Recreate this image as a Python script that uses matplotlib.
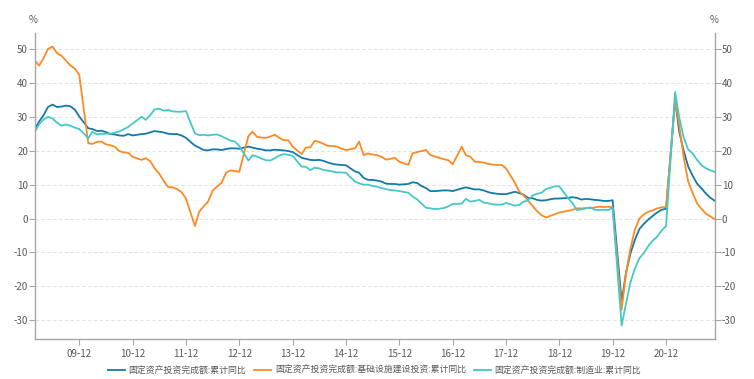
import numpy as np
import pandas as pd
import matplotlib
matplotlib.use('Agg')
import matplotlib.pyplot as plt
import matplotlib.dates as mdates

plt.rcParams['font.family'] = ['Noto Sans CJK SC', 'DejaVu Sans']
plt.rcParams['axes.unicode_minus'] = False

# monthly cumulative yoy (%), Feb-Dec each year (no January), 2009-02 .. 2021-11
fai_total = [
    26.5, 28.6, 30.5, 32.9, 33.6, 32.9, 33.0, 33.3, 33.1, 32.1, 30.1,
    26.6, 26.4, 25.8, 25.9, 25.5, 24.9, 24.8, 24.5, 24.4, 24.9, 24.5,
    24.9, 25.0, 25.4, 25.8, 25.6, 25.4, 25.0, 24.9, 24.9, 24.5, 23.8,
    21.5, 20.9, 20.2, 20.1, 20.4, 20.4, 20.2, 20.5, 20.7, 20.7, 20.6,
    21.2, 20.9, 20.6, 20.4, 20.1, 20.1, 20.3, 20.2, 20.1, 19.9, 19.6,
    17.9, 17.6, 17.3, 17.2, 17.3, 17.0, 16.5, 16.1, 15.9, 15.8, 15.7,
    13.9, 13.5, 12.0, 11.4, 11.4, 11.2, 10.9, 10.3, 10.2, 10.2, 10.0,
    10.2, 10.7, 10.5, 9.6, 9.0, 8.1, 8.1, 8.2, 8.3, 8.3, 8.1,
    8.9, 9.2, 8.9, 8.6, 8.6, 8.3, 7.8, 7.5, 7.3, 7.2, 7.2,
    7.9, 7.5, 7.0, 6.1, 6.0, 5.5, 5.3, 5.4, 5.7, 5.9, 5.9,
    6.1, 6.3, 6.1, 5.6, 5.8, 5.7, 5.5, 5.4, 5.2, 5.2, 5.4,
    -24.5, -16.1, -10.3, -6.3, -3.1, -1.6, -0.3, 0.8, 1.8, 2.6, 2.9,
    35.0, 25.6, 19.9, 15.4, 12.6, 10.3, 8.9, 7.3, 6.1, 5.2,
]

fai_infra = [
    46.5, 45.1, 47.3, 50.0, 50.7, 48.8, 48.0, 46.6, 45.1, 44.2, 42.3,
    22.2, 22.0, 22.6, 22.7, 21.9, 21.6, 21.2, 19.9, 19.5, 19.4, 18.2,
    17.3, 17.8, 16.9, 14.8, 13.3, 11.2, 9.3, 9.2, 8.7, 7.8, 6.0,
    -2.2, 2.0, 3.6, 5.0, 8.2, 9.4, 10.5, 13.5, 14.2, 14.0, 13.8,
    24.3, 25.6, 24.1, 23.9, 23.8, 24.2, 24.7, 23.8, 23.1, 23.1, 21.2,
    19.0, 20.9, 21.0, 22.9, 22.6, 22.0, 21.4, 21.4, 21.2, 20.6, 20.2,
    20.7, 22.7, 18.7, 19.2, 18.9, 18.7, 18.2, 17.4, 17.6, 17.9, 16.8,
    15.8, 19.2, 19.6, 19.9, 20.2, 18.7, 18.3, 17.9, 17.5, 17.2, 16.0,
    21.2, 18.7, 18.2, 16.8, 16.7, 16.5, 16.1, 15.9, 15.8, 15.8, 14.8,
    10.5, 8.0, 6.8, 5.3, 3.8, 2.2, 1.0, 0.3, 0.8, 1.3, 1.8,
    2.3, 2.6, 3.0, 3.0, 3.1, 3.0, 3.3, 3.5, 3.4, 3.5, 3.3,
    -26.9, -16.4, -8.8, -3.3, 0.0, 1.2, 2.0, 2.4, 3.0, 3.3, 3.4,
    35.0, 27.5, 18.0, 11.0, 7.5, 4.5, 2.8, 1.4, 0.6, -0.2,
]

fai_manu = [
    25.6, 27.8, 29.2, 30.0, 29.5, 28.3, 27.4, 27.7, 27.4, 26.8, 26.4,
    23.7, 25.6, 24.8, 25.0, 25.0, 25.0, 25.3, 25.7, 26.3, 27.0, 28.0,
    30.0, 29.1, 30.5, 32.2, 32.4, 31.8, 32.0, 31.6, 31.5, 31.5, 31.7,
    25.1, 24.6, 24.7, 24.5, 24.7, 24.8, 24.3, 23.6, 23.0, 22.7, 21.4,
    17.1, 18.7, 18.3, 17.7, 17.2, 17.1, 17.8, 18.6, 19.0, 18.8, 18.5,
    15.3, 15.3, 14.3, 15.0, 14.8, 14.3, 14.1, 13.9, 13.6, 13.6, 13.5,
    10.9, 10.4, 10.0, 10.0, 9.6, 9.4, 9.0, 8.7, 8.4, 8.3, 8.1,
    7.6, 6.5, 5.7, 4.4, 3.2, 3.0, 2.8, 2.9, 3.1, 3.6, 4.3,
    4.4, 5.8, 5.0, 5.2, 5.5, 4.7, 4.5, 4.2, 4.1, 4.1, 4.6,
    3.8, 4.0, 5.0, 5.3, 6.8, 7.3, 7.6, 8.7, 9.1, 9.5, 9.5,
    5.9, 4.6, 2.5, 2.7, 3.0, 3.3, 2.6, 2.5, 2.6, 2.5, 3.1,
    -31.5, -25.2, -18.8, -14.8, -11.7, -10.2, -8.1, -6.5, -5.3, -3.5, -2.2,
    37.3, 29.8, 23.8, 20.4, 19.2, 17.3, 15.7, 14.8, 14.2, 13.7,
]

labels = ['固定资产投资完成额:累计同比',
          '固定资产投资完成额:基础设施建设投资:累计同比',
          '固定资产投资完成额:制造业:累计同比']
colors = ['#1479a8', '#ff8a22', '#45c8c6']

dates = pd.date_range('2009-02-01', '2021-11-01', freq='MS')
dates = dates[dates.month != 1]

df = pd.DataFrame({labels[0]: fai_total, labels[1]: fai_infra,
                   labels[2]: fai_manu}, index=dates)

fig = plt.figure(figsize=(7.54, 3.79), dpi=100)
ax = fig.add_axes([35 / 754, 40 / 379, 680 / 754, 306 / 379])

for col, c in zip(labels, colors):
    ax.plot(df.index, df[col], color=c, lw=1.3, label=col)

ax.set_xlim(dates[0], dates[-1])
ax.set_ylim(-35.5, 54.7)
ax.set_yticks(np.arange(-30, 51, 10))
ax.grid(axis='y', color='#dddddd', lw=0.6, linestyle=(0, (4, 3)))
ax.set_axisbelow(True)

ticks = pd.date_range('2009-12-01', '2020-12-01', freq='12MS')
ax.set_xticks(ticks)
ax.xaxis.set_major_formatter(mdates.DateFormatter('%y-%m'))

for s in ['left', 'right', 'bottom']:
    ax.spines[s].set_color('#a6a6a6')
    ax.spines[s].set_linewidth(1.0)
ax.spines['top'].set_visible(False)

ax.tick_params(axis='both', colors='#a6a6a6', labelcolor='#595959',
               labelsize=7, length=4, width=0.8, direction='out')
ax.tick_params(axis='y', right=True, labelright=True, pad=1)

ax.text(-0.003, 1.043, '%', transform=ax.transAxes, ha='center', va='center',
        fontsize=7, color='#595959')
ax.text(0.998, 1.043, '%', transform=ax.transAxes, ha='center', va='center',
        fontsize=7, color='#595959')

fig.legend(loc='center', bbox_to_anchor=(0.497, 0.022), ncol=3, frameon=False,
           fontsize=6.4, handlelength=1.9, handletextpad=0.4, columnspacing=0.9,
           labelcolor='#595959')

fig.savefig('out.png', dpi=100)
